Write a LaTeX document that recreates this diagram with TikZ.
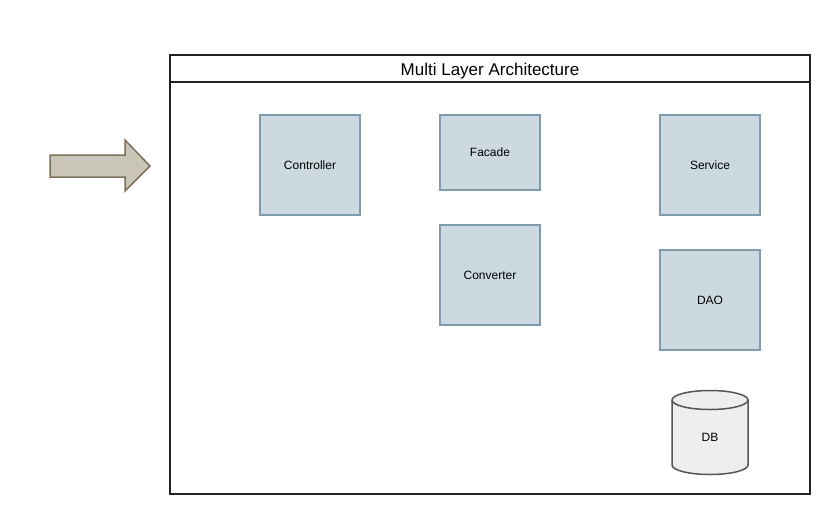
\documentclass[tikz,border=0pt]{standalone}
\usepackage{fontspec}
\setmainfont{Liberation Sans}
\definecolor{boxfill}{HTML}{CCD9E0}
\definecolor{boxline}{HTML}{7F9CAD}
\definecolor{arrfill}{HTML}{C9C5B8}
\definecolor{arrline}{HTML}{7D7259}
\definecolor{dbfill}{HTML}{EEEEEE}
\definecolor{dbline}{HTML}{555555}
\definecolor{frameline}{HTML}{222222}
\tikzset{
  comp/.style={draw=boxline, fill=boxfill, line width=1.5pt, inner sep=0pt,
    font=\fontsize{12}{14}\selectfont},
  dbstyle/.style={draw=dbline, fill=dbfill, line width=1.5pt},
}
\begin{document}
\begin{tikzpicture}[x=1pt,y=-1pt]
\useasboundingbox (0,0) rectangle (832,515);
% frame
\draw[frameline, line width=1.5pt] (170,55) rectangle (810,494);
\draw[frameline, line width=1.5pt] (170,82) -- (810,82);
\node[font=\fontsize{17}{19}\selectfont] (title) at (490,71) {Multi Layer Architecture};
% arrow
\draw[draw=arrline, fill=arrfill, line width=1.5pt]
  (50,155) -- (125,155) -- (125,140) -- (150,166) -- (125,191) -- (125,177) -- (50,177) -- cycle;
% components
\node[comp, minimum width=100pt, minimum height=100pt] (controller) at (310,165) {Controller};
\node[comp, minimum width=100pt, minimum height=75pt] (facade) at (490,152.5) {Facade};
\node[comp, minimum width=100pt, minimum height=100pt] (converter) at (490,275) {Converter};
\node[comp, minimum width=100pt, minimum height=100pt] (service) at (710,165) {Service};
\node[comp, minimum width=100pt, minimum height=100pt] (dao) at (710,300) {DAO};
% database cylinder
\draw[dbstyle] (672,400) -- (672,465) arc[start angle=180, end angle=360, x radius=38pt, y radius=9.5pt]
  -- (748,400) arc[start angle=0, end angle=180, x radius=38pt, y radius=9.5pt] -- cycle;
\draw[dbstyle] (672,400) arc[start angle=180, end angle=360, x radius=38pt, y radius=9.5pt];
\node[font=\fontsize{12}{14}\selectfont] (db) at (710,437) {DB};
\end{tikzpicture}
\end{document}
